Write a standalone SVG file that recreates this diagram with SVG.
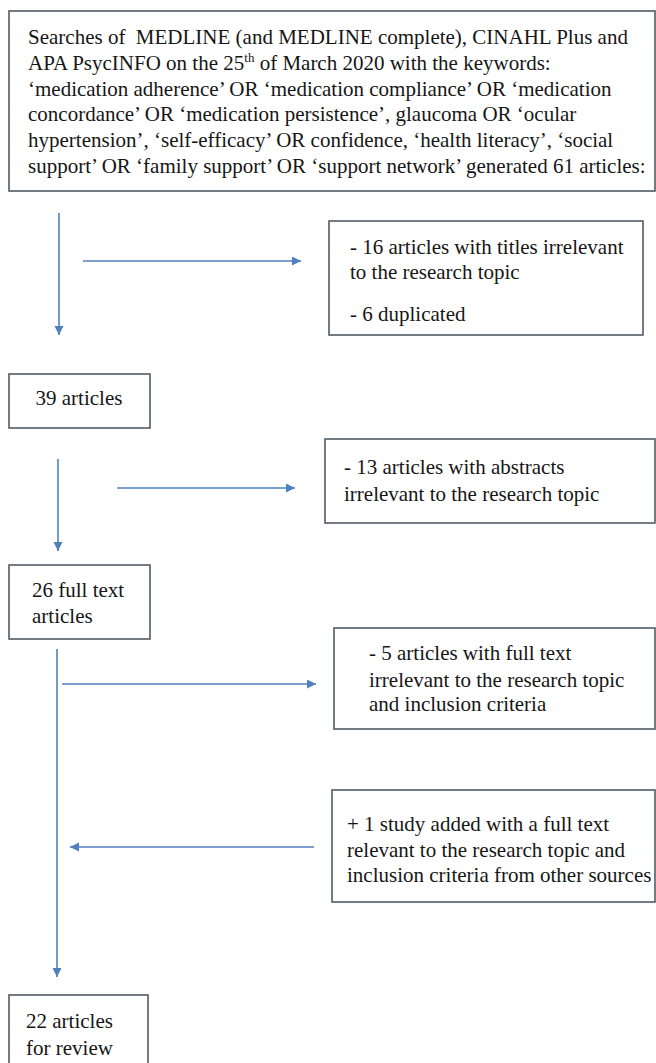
<svg xmlns="http://www.w3.org/2000/svg" width="656" height="1063" viewBox="0 0 656 1063">
<style>
.box{fill:#fff;stroke:#505b66;stroke-width:1.6}
.t{font-family:"Liberation Serif","Times New Roman",serif;font-size:21px;fill:#161616}
.c{stroke:#4f81bd;stroke-width:1.6;fill:none}
</style>
<defs>
<marker id="ah" markerWidth="10" markerHeight="10" refX="9" refY="4.5" orient="auto" markerUnits="userSpaceOnUse">
<path d="M0,0 L9,4.5 L0,9 Z" fill="#4f81bd"/>
</marker>
</defs>
<rect width="656" height="1063" fill="#fff"/>
<g id="connectors">
<line class="c" x1="59" y1="213" x2="59" y2="335" marker-end="url(#ah)"/>
<line class="c" x1="83" y1="261" x2="301" y2="261" marker-end="url(#ah)"/>
<line class="c" x1="58" y1="459" x2="58" y2="551" marker-end="url(#ah)"/>
<line class="c" x1="117" y1="488" x2="295" y2="488" marker-end="url(#ah)"/>
<line class="c" x1="57" y1="649" x2="57" y2="977" marker-end="url(#ah)"/>
<line class="c" x1="62" y1="684" x2="316" y2="684" marker-end="url(#ah)"/>
<line class="c" x1="314" y1="847" x2="70" y2="847" marker-end="url(#ah)"/>
</g>
<g id="search">
<rect class="box" x="9" y="11" width="646" height="180"/>
<text class="t" x="28" y="44" xml:space="preserve">Searches of  MEDLINE (and MEDLINE complete), CINAHL Plus and</text>
<text class="t" x="28" y="70">APA PsycINFO on the 25<tspan font-size="13" dy="-8">th</tspan><tspan dy="8"> of March 2020 with the keywords:</tspan></text>
<text class="t" x="28" y="96">‘medication adherence’ OR ‘medication compliance’ OR ‘medication</text>
<text class="t" x="28" y="121">concordance’ OR ‘medication persistence’, glaucoma OR ‘ocular</text>
<text class="t" x="28" y="147">hypertension’, ‘self-efficacy’ OR confidence, ‘health literacy’, ‘social</text>
<text class="t" x="28" y="173">support’ OR ‘family support’ OR ‘support network’ generated 61 articles:</text>
</g>
<g id="excl1">
<rect class="box" x="329" y="221" width="314" height="114"/>
<text class="t" x="350" y="254">- 16 articles with titles irrelevant</text>
<text class="t" x="350" y="279">to the research topic</text>
<text class="t" x="350" y="321">- 6 duplicated</text>
</g>
<g id="n39">
<rect class="box" x="9" y="374" width="141" height="54"/>
<text class="t" x="79" y="405" text-anchor="middle">39 articles</text>
</g>
<g id="excl2">
<rect class="box" x="325" y="439" width="330" height="84"/>
<text class="t" x="344" y="474">- 13 articles with abstracts</text>
<text class="t" x="344" y="501">irrelevant to the research topic</text>
</g>
<g id="n26">
<rect class="box" x="9" y="565" width="141" height="74"/>
<text class="t" x="32" y="597">26 full text</text>
<text class="t" x="32" y="623">articles</text>
</g>
<g id="excl3">
<rect class="box" x="334" y="628" width="321" height="101"/>
<text class="t" x="369" y="660">- 5 articles with full text</text>
<text class="t" x="369" y="687">irrelevant to the research topic</text>
<text class="t" x="369" y="711">and inclusion criteria</text>
</g>
<g id="added">
<rect class="box" x="332" y="790" width="323" height="112"/>
<text class="t" x="347" y="831">+ 1 study added with a full text</text>
<text class="t" x="347" y="857">relevant to the research topic and</text>
<text class="t" x="347" y="882">inclusion criteria from other sources</text>
</g>
<g id="n22">
<rect class="box" x="9" y="995" width="139" height="80"/>
<text class="t" x="26" y="1028">22 articles</text>
<text class="t" x="26" y="1055">for review</text>
</g>
</svg>
